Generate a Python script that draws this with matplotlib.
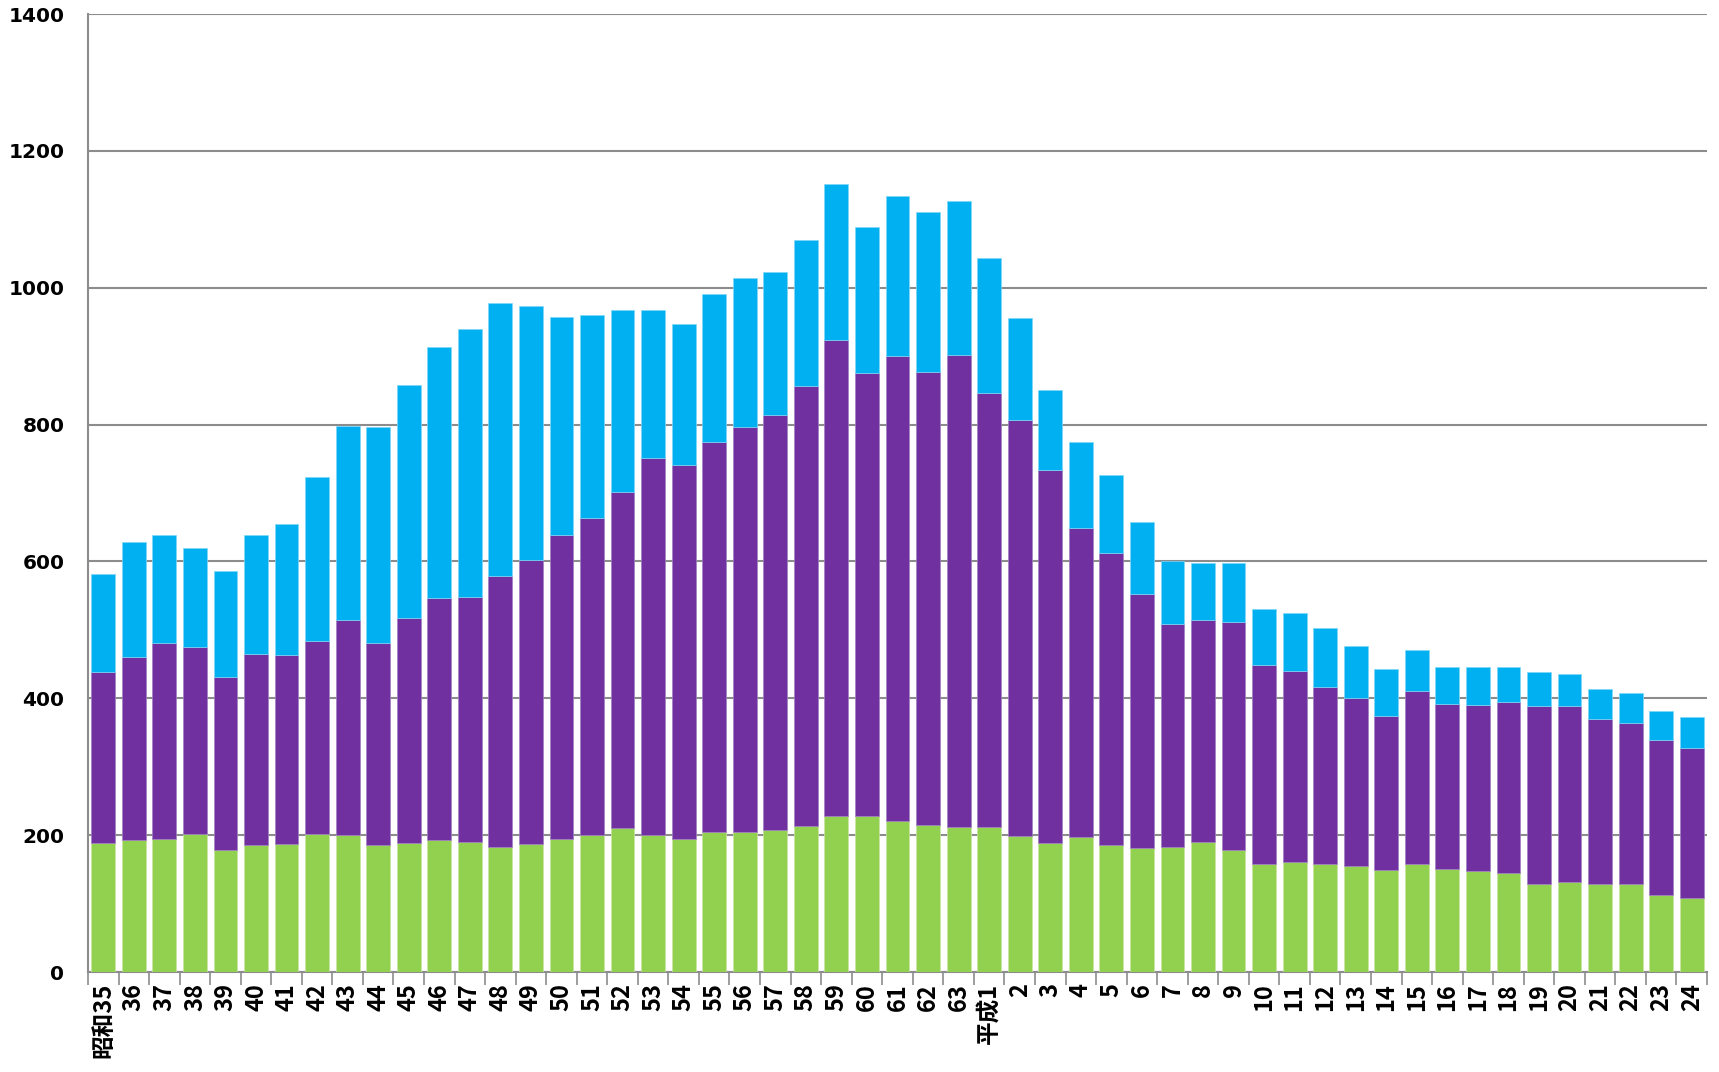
import numpy as np
import matplotlib.pyplot as plt

# 年度ラベル (昭和35 - 平成24)
labels = ['昭和35'] + [str(n) for n in range(36, 64)] + ['平成1'] + [str(n) for n in range(2, 25)]

# 下段 (緑)
green = [188, 193, 194, 202, 178, 186, 187, 201, 200, 186,
         188, 193, 190, 182, 187, 194, 200, 211, 200, 195,
         205, 205, 207, 214, 228, 228, 221, 215, 212,
         212, 199, 188, 197, 186, 181, 183, 190, 178, 158,
         161, 158, 155, 149, 158, 150, 147, 145, 129, 131,
         129, 128, 112, 108]
# 緑+紫 の累計
mid_total = [439, 460, 481, 475, 431, 464, 463, 483, 515, 481,
             517, 547, 548, 579, 602, 639, 663, 702, 751, 741,
             774, 797, 814, 856, 923, 876, 900, 877, 901,
             846, 806, 733, 649, 612, 552, 509, 515, 512, 449,
             440, 417, 401, 374, 411, 392, 390, 395, 389, 389,
             370, 364, 339, 328]
# 合計
total = [581, 628, 639, 619, 586, 638, 655, 724, 798, 796,
         858, 913, 939, 978, 973, 957, 960, 968, 968, 947,
         991, 1014, 1023, 1070, 1151, 1088, 1134, 1111, 1127,
         1044, 956, 851, 775, 726, 658, 600, 597, 597, 531,
         524, 503, 476, 443, 471, 445, 445, 446, 439, 436,
         413, 407, 382, 373]

green = np.array(green)
purple = np.array(mid_total) - green
blue = np.array(total) - np.array(mid_total)

x = np.arange(len(labels))

fig = plt.figure(figsize=(17.19, 10.72), dpi=100)
ax = fig.add_axes([88/1719, 1-972/1072, (1707-88)/1719, (972-14)/1072])

w = 0.78
ax.bar(x, green, w, color='#92D050', edgecolor='#c8e6a0', linewidth=0.5, zorder=3)
ax.bar(x, purple, w, bottom=green, color='#7030A0', edgecolor='#a080c0', linewidth=0.5, zorder=3)
ax.bar(x, blue, w, bottom=green + purple, color='#00B0F0', edgecolor='#80d8f8', linewidth=0.5, zorder=3)

ax.set_xlim(-0.5, len(labels) - 0.5)
ax.set_ylim(0, 1400)
ax.set_yticks(range(0, 1401, 200))
ax.grid(axis='y', color='#8c8c8c', linewidth=1.5, zorder=0)
ax.tick_params(axis='y', length=0, pad=17)
for t in ax.get_yticklabels():
    t.set_fontsize(14.5)
    t.set_fontweight('bold')

ax.set_xticks(x)
ax.set_xticklabels(labels, rotation=90, fontsize=17, fontweight='bold',
                   family=['Liberation Sans Narrow', 'Noto Sans CJK JP', 'DejaVu Sans'], va='top')
ax.tick_params(axis='x', length=0, pad=8)
ax.set_xticks(np.arange(-0.5, len(labels)), minor=True)
ax.tick_params(axis='x', which='minor', length=9, width=1.2, color='#8c8c8c', direction='out')

for s in ['top', 'right']:
    ax.spines[s].set_visible(False)
ax.spines['left'].set_color('#8c8c8c')
ax.spines['left'].set_linewidth(1.5)
ax.spines['bottom'].set_color('#8c8c8c')
ax.spines['bottom'].set_linewidth(1.5)

fig.savefig('out.png', dpi=100)
